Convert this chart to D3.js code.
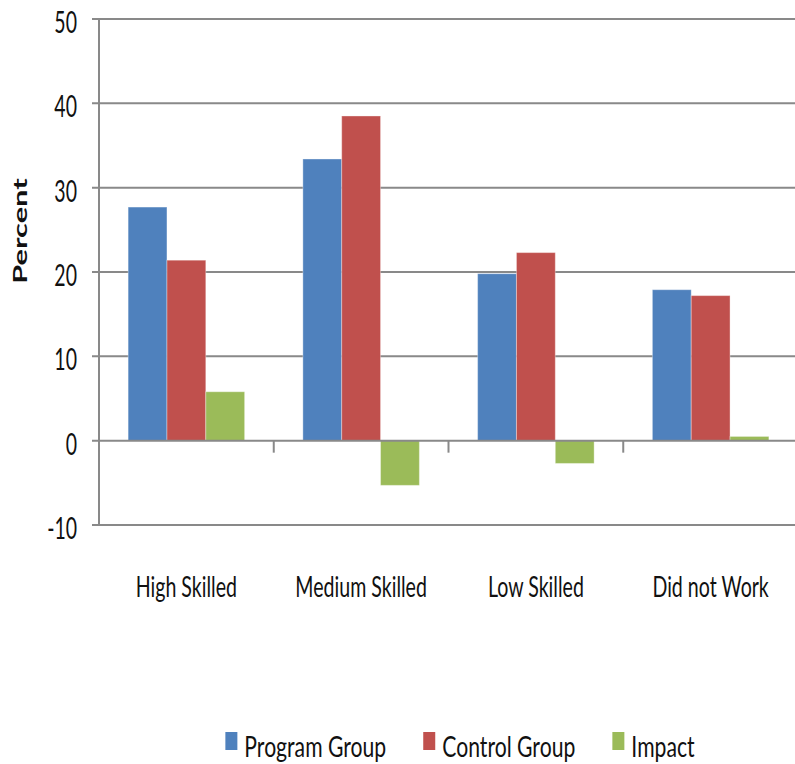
<!DOCTYPE html>
<html>
<head>
<meta charset="utf-8">
<script src="https://cdn.jsdelivr.net/npm/d3@7"></script>
<style>
  html, body { margin: 0; padding: 0; background: #fff; }
  svg { display: block; }
  text { font-family: Lato, "Open Sans", sans-serif; fill: #111; }
</style>
</head>
<body>
<svg id="chart" width="795" height="764"></svg>
<script>
// Employment outcome shares by skill level, program vs. control group
const categories = ["High Skilled", "Medium Skilled", "Low Skilled", "Did not Work"];
const seriesNames = ["Program Group", "Control Group", "Impact"];
const programGroup = [27.7, 33.4, 19.8, 17.9];
const controlGroup = [21.4, 38.5, 22.3, 17.2];
const impact = [5.8, -5.3, -2.7, 0.5];
const seriesColors = ["#4F81BD", "#C0504D", "#9BBB59"];
const yTicks = [-10, 0, 10, 20, 30, 40, 50];
const yLabel = "Percent";

const seriesValues = [programGroup, controlGroup, impact];
const rows = categories.map((c, i) => ({
  category: c,
  values: seriesNames.map((s, j) => ({ series: s, value: seriesValues[j][i], color: seriesColors[j] }))
}));

const svg = d3.select("#chart");
const plot = { left: 99, right: 798, top: 19, bottom: 525 };
const gridColor = "#898989";

const y = d3.scaleLinear().domain([-10, 50]).range([plot.bottom, plot.top]);
const x0 = d3.scaleBand().domain(categories).range([plot.left, plot.right]).padding(0);
const x1 = d3.scaleBand().domain(seriesNames).range([0, x0.bandwidth()])
  .paddingInner(0).paddingOuter(0.75);

// condensed text: place at (x, y) and narrow glyphs horizontally by k
function condensedText(parent, data, opts) {
  return parent.selectAll("text.c" + opts.cls)
    .data(data).join("text")
    .attr("class", "c" + opts.cls)
    .attr("transform", (d, i) => `translate(${opts.x(d, i)},${opts.y(d, i)}) scale(${opts.k},1)`)
    .attr("text-anchor", opts.anchor || "start")
    .attr("font-size", opts.size)
    .text(d => d);
}

// horizontal gridlines (the zero line is drawn later, above the bars)
svg.append("g").selectAll("line")
  .data(yTicks.filter(t => t !== 0))
  .join("line")
  .attr("x1", plot.left - 7).attr("x2", plot.right)
  .attr("y1", d => y(d)).attr("y2", d => y(d))
  .attr("stroke", gridColor).attr("stroke-width", 2);

// vertical axis line
svg.append("line")
  .attr("x1", plot.left).attr("x2", plot.left)
  .attr("y1", plot.top).attr("y2", plot.bottom)
  .attr("stroke", gridColor).attr("stroke-width", 2);

// bars
const groups = svg.append("g").selectAll("g")
  .data(rows).join("g")
  .attr("transform", d => `translate(${x0(d.category)},0)`);

groups.selectAll("rect")
  .data(d => d.values).join("rect")
  .attr("x", d => x1(d.series))
  .attr("width", x1.bandwidth())
  .attr("y", d => y(Math.max(0, d.value)))
  .attr("height", d => Math.abs(y(d.value) - y(0)))
  .attr("fill", d => d.color)
  .attr("stroke", "rgba(255,255,255,0.35)")
  .attr("stroke-width", 1);

// zero line with category separator ticks
svg.append("line")
  .attr("x1", plot.left - 7).attr("x2", plot.right)
  .attr("y1", y(0)).attr("y2", y(0))
  .attr("stroke", gridColor).attr("stroke-width", 2);

svg.append("g").selectAll("line")
  .data(categories.slice(1))
  .join("line")
  .attr("x1", d => x0(d)).attr("x2", d => x0(d))
  .attr("y1", y(0)).attr("y2", y(0) + 12)
  .attr("stroke", gridColor).attr("stroke-width", 2);

// y tick labels
condensedText(svg.append("g"), yTicks, {
  cls: "ytick", x: () => 77, y: d => y(d) + 14, k: 0.65, size: 30, anchor: "end"
});

// category labels
condensedText(svg.append("g"), categories, {
  cls: "cat", x: d => x0(d) + x0.bandwidth() / 2, y: () => 597, k: 0.70, size: 28, anchor: "middle"
});

// y axis title
const title = svg.append("text")
  .attr("transform", "translate(27,231) rotate(-90)")
  .attr("text-anchor", "middle")
  .attr("font-size", 19.5)
  .attr("font-weight", "bold")
  .text(yLabel);
title.attr("textLength", title.node().getComputedTextLength() * 1.58)
  .attr("lengthAdjust", "spacingAndGlyphs");

// legend
const legendK = 0.73;
const legend = svg.append("g");
const items = legend.selectAll("g").data(seriesNames).join("g");
items.append("rect")
  .attr("width", 12).attr("height", 18)
  .attr("y", 732)
  .attr("fill", (d, i) => seriesColors[i]);
const legendText = items.append("text")
  .attr("font-size", 29)
  .text(d => d);

const widths = [];
legendText.each(function () { widths.push(this.getComputedTextLength() * legendK); });
const itemW = widths.map(w => 12 + 7 + w);
const gap = 37;
const total = d3.sum(itemW) + gap * (itemW.length - 1);
let cx = 460 - total / 2;
items.each(function (d, i) {
  d3.select(this).select("rect").attr("x", cx);
  d3.select(this).select("text")
    .attr("transform", `translate(${cx + 19},757) scale(${legendK},1)`);
  cx += itemW[i] + gap;
});
</script>
</body>
</html>
